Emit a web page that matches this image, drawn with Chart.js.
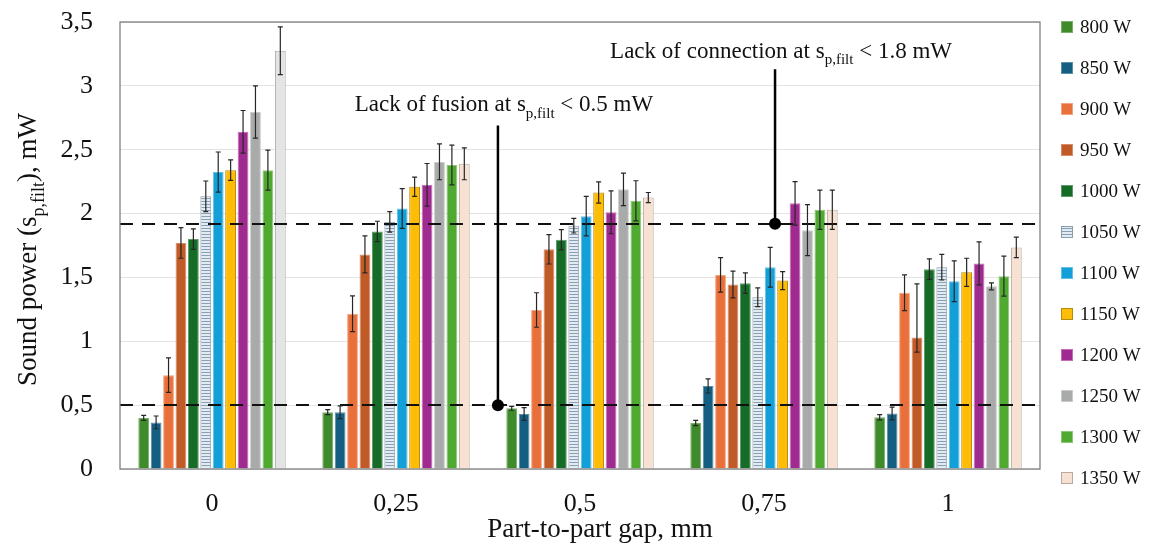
<!DOCTYPE html>
<html>
<head>
<meta charset="utf-8">
<script src="https://cdn.jsdelivr.net/npm/chart.js@4.4.1/dist/chart.umd.min.js"></script>
<style>
    html, body { margin: 0; padding: 0; background: #fff; }
</style>
</head>
<body>
<canvas id="myChart" width="1151" height="559"></canvas>
<script>
// part-to-part gap categories and laser power series
const gaps = ['0', '0,25', '0,5', '0,75', '1'];
const powers = ['800 W', '850 W', '900 W', '950 W', '1000 W', '1050 W', '1100 W', '1150 W', '1200 W', '1250 W', '1300 W', '1350 W'];

// sound power s_p,filt in mW, one value per gap
const s800 = [0.40, 0.445, 0.475, 0.36, 0.405];
const s850 = [0.365, 0.445, 0.43, 0.65, 0.435];
const s900 = [0.735, 1.215, 1.245, 1.52, 1.38];
const s950 = [1.77, 1.68, 1.72, 1.445, 1.03];
const s1000 = [1.80, 1.86, 1.795, 1.455, 1.565];
const s1050 = [2.135, 1.935, 1.905, 1.345, 1.58];
const s1100 = [2.325, 2.04, 1.98, 1.58, 1.47];
const s1150 = [2.34, 2.21, 2.165, 1.475, 1.54];
const s1200 = [2.64, 2.225, 2.01, 2.08, 1.61];
const s1250 = [2.795, 2.405, 2.19, 1.87, 1.43];
const s1300 = [2.34, 2.38, 2.10, 2.03, 1.51];
const s1350 = [3.275, 2.39, 2.125, 2.03, 1.735];

// error bars (+/-), [minus, plus] where asymmetric
const e800 = [0.02, 0.02, 0.015, 0.02, 0.02];
const e850 = [0.05, 0.05, 0.05, 0.055, 0.05];
const e900 = [0.135, 0.14, 0.135, 0.135, 0.14];
const e950 = [0.12, 0.145, 0.115, 0.105, [0.115, 0.42]];
const e1000 = [0.08, 0.08, 0.08, 0.08, 0.08];
const e1050 = [0.12, 0.08, 0.057, 0.073, 0.10];
const e1100 = [0.157, 0.156, 0.155, 0.156, 0.16];
const e1150 = [0.08, 0.075, 0.083, 0.07, 0.11];
const e1200 = [0.167, 0.167, 0.168, 0.17, 0.168];
const e1250 = [0.205, 0.14, 0.127, 0.2, 0.028];
const e1300 = [0.157, 0.156, 0.157, 0.153, 0.157];
const e1350 = [0.187, 0.125, 0.04, 0.153, 0.08];

const values = [s800, s850, s900, s950, s1000, s1050, s1100, s1150, s1200, s1250, s1300, s1350];
const errors = [e800, e850, e900, e950, e1000, e1050, e1100, e1150, e1200, e1250, e1300, e1350];

// limits in mW
const thresholds = [0.5, 1.92];

const serif = "'Liberation Serif', 'Times New Roman', serif";

// horizontal striped fill for 1050 W
function stripes() {
    const c = document.createElement('canvas');
    c.width = 4; c.height = 3;
    const g = c.getContext('2d');
    g.fillStyle = '#e3ebf1';
    g.fillRect(0, 0, 4, 3);
    g.fillStyle = '#86a1b7';
    g.fillRect(0, 0, 4, 1);
    return g.createPattern(c, 'repeat');
}
const hatch = stripes();

const fills = ['#3f8a2b', '#145e82', '#e9703a', '#c05a27', '#166c27', hatch, '#139fd8', '#fdbc05', '#a02b90', '#a9abab', '#50a931', '#f6e1d3'];
const edges = ['#78b066', '#5d8ea8', '#f3a47f', '#d98d67', '#5e9a69', '#8c9daa', '#64c0e6', '#b58a10', '#c46db7', '#c9caca', '#8bc873', '#b9aaa0'];

const datasets = powers.map((p, i) => ({
    label: p,
    data: values[i],
    errors: errors[i],
    legendFill: fills[i],
    backgroundColor: i === 11 ? values[i].map((v, j) => j === 0 ? '#e4e4e4' : fills[i]) : fills[i],
    borderColor: i === 11 ? values[i].map((v, j) => j === 0 ? '#a9a9a9' : edges[i]) : edges[i],
    borderWidth: 1
}));

const errorBars = {
    id: 'errorBars',
    afterDatasetsDraw(chart) {
        const ctx = chart.ctx;
        const y = chart.scales.y;
        const area = chart.chartArea;

        // threshold lines
        ctx.save();
        ctx.strokeStyle = '#111';
        ctx.lineWidth = 2;
        ctx.setLineDash([13, 9]);
        thresholds.forEach(t => {
            const py = Math.round(y.getPixelForValue(t));
            ctx.beginPath();
            ctx.moveTo(area.left, py);
            ctx.lineTo(area.right, py);
            ctx.stroke();
        });
        ctx.restore();

        ctx.save();
        ctx.strokeStyle = '#262626';
        ctx.lineWidth = 1.2;
        chart.data.datasets.forEach((ds, i) => {
            const meta = chart.getDatasetMeta(i);
            meta.data.forEach((bar, j) => {
                const e = ds.errors[j];
                const lo = Array.isArray(e) ? e[0] : e;
                const hi = Array.isArray(e) ? e[1] : e;
                const v = ds.data[j];
                const yt = y.getPixelForValue(v + hi);
                const yb = y.getPixelForValue(v - lo);
                ctx.beginPath();
                ctx.moveTo(bar.x, yt); ctx.lineTo(bar.x, yb);
                ctx.moveTo(bar.x - 2.5, yt); ctx.lineTo(bar.x + 2.5, yt);
                ctx.moveTo(bar.x - 2.5, yb); ctx.lineTo(bar.x + 2.5, yb);
                ctx.stroke();
            });
        });
        ctx.restore();
    }
};

// text with subscript
function subText(ctx, parts, x, y, size, align) {
    const big = size + 'px ' + serif;
    const small = Math.round(size * 0.65) + 'px ' + serif;
    ctx.font = big;
    const w1 = ctx.measureText(parts[0]).width;
    const w3 = ctx.measureText(parts[2]).width;
    ctx.font = small;
    const w2 = ctx.measureText(parts[1]).width;
    let x0 = align === 'center' ? x - (w1 + w2 + w3) / 2 : x;
    ctx.textAlign = 'left';
    ctx.font = big;
    ctx.fillText(parts[0], x0, y);
    ctx.font = small;
    ctx.fillText(parts[1], x0 + w1, y + size * 0.28);
    ctx.font = big;
    ctx.fillText(parts[2], x0 + w1 + w2, y);
}

const notes = [
    { x: 1.554, y: 0.5, top: 2.69, textY: 2.80, text: ['Lack of fusion at s', 'p,filt', ' < 0.5 mW'] },
    { x: 3.06, y: 1.92, top: 3.13, textY: 3.22, text: ['Lack of connection at s', 'p,filt', ' < 1.8 mW'] }
];

const extras = {
    id: 'extras',
    afterDraw(chart) {
        const ctx = chart.ctx;
        const a = chart.chartArea;
        const xs = chart.scales.x, ys = chart.scales.y;
        ctx.save();

        // plot frame
        ctx.strokeStyle = '#7f7f7f';
        ctx.lineWidth = 1.3;
        ctx.strokeRect(a.left, a.top, a.right - a.left, a.bottom - a.top);

        // annotations
        notes.forEach(n => {
            const px = xs.getPixelForValue(n.x);
            const py = ys.getPixelForValue(n.y);
            ctx.strokeStyle = '#000';
            ctx.lineWidth = 2.5;
            ctx.beginPath();
            ctx.moveTo(px, ys.getPixelForValue(n.top));
            ctx.lineTo(px, py);
            ctx.stroke();
            ctx.fillStyle = '#000';
            ctx.beginPath();
            ctx.arc(px, py, 6, 0, Math.PI * 2);
            ctx.fill();
            ctx.fillStyle = '#111';
            ctx.textBaseline = 'alphabetic';
            subText(ctx, n.text, px + 6, ys.getPixelForValue(n.textY), 23, 'center');
        });

        // axis titles
        ctx.fillStyle = '#111';
        ctx.textBaseline = 'alphabetic';
        ctx.font = '27px ' + serif;
        ctx.textAlign = 'center';
        ctx.fillText('Part-to-part gap, mm', (a.left + a.right) / 2 + 20, 537);

        ctx.save();
        ctx.translate(36, (a.top + a.bottom) / 2 + 4);
        ctx.rotate(-Math.PI / 2);
        subText(ctx, ['Sound power (s', 'p,filt', '), mW'], 0, 0, 27, 'center');
        ctx.restore();

        // legend
        ctx.font = '19px ' + serif;
        ctx.textBaseline = 'middle';
        chart.data.datasets.forEach((ds, i) => {
            const ly = 27 + i * 41;
            ctx.fillStyle = ds.legendFill;
            ctx.fillRect(1061, ly - 6, 12, 12);
            ctx.strokeStyle = edges[i];
            ctx.lineWidth = 1;
            ctx.strokeRect(1061.5, ly - 5.5, 11, 11);
            ctx.fillStyle = '#111';
            ctx.textAlign = 'left';
            ctx.fillText(ds.label, 1080, ly + 1);
        });
        ctx.restore();
    }
};

const ctx = document.getElementById('myChart');

new Chart(ctx, {
    type: 'bar',
    data: { labels: gaps, datasets: datasets },
    plugins: [errorBars, extras],
    options: {
        responsive: false,
        animation: false,
        layout: { padding: { top: 22, right: 111, left: 0, bottom: 0 } },
        plugins: {
            legend: { display: false },
            tooltip: { enabled: false }
        },
        datasets: { bar: { categoryPercentage: 0.81, barPercentage: 0.87 } },
        scales: {
            x: {
                grid: { display: false, drawTicks: false },
                border: { display: false },
                ticks: { padding: 20, color: '#111', font: { size: 26, family: serif } },
                afterFit(s) { s.height = 90; }
            },
            y: {
                min: 0,
                max: 3.5,
                grid: { color: '#e3e3e3', drawTicks: false },
                border: { display: false },
                ticks: {
                    stepSize: 0.5,
                    padding: 27,
                    color: '#111',
                    font: { size: 26, family: serif },
                    callback: v => String(v).replace('.', ',')
                },
                afterFit(s) {
                    s.width = 120;
                    s.paddingTop = 0;
                    s.paddingBottom = 0;
                }
            }
        }
    }
});
</script>
</body>
</html>
